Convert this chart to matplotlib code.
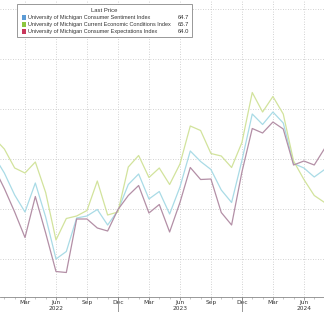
import matplotlib.pyplot as plt
from matplotlib.patches import Rectangle

# monthly data, Dec 2021 .. Sep 2024 (index 0 = Dec 2021)
sentiment = [70.6, 67.2, 62.8, 59.4, 65.2, 58.4, 50.0, 51.5, 58.2, 58.6, 59.9, 56.8,
             59.7, 64.9, 67.0, 62.0, 63.5, 59.0, 64.4, 71.6, 69.5, 67.9, 63.8, 61.3,
             69.7, 79.0, 76.9, 79.4, 77.2, 69.1, 68.2, 66.4, 67.9, 70.1]
current = [74.2, 72.0, 68.2, 67.2, 69.4, 63.3, 53.8, 58.1, 58.6, 59.7, 65.6, 58.8,
           59.4, 68.4, 70.7, 66.3, 68.2, 64.9, 69.0, 76.6, 75.7, 71.1, 70.6, 68.3,
           73.3, 83.3, 79.4, 82.5, 79.0, 69.6, 65.9, 62.7, 61.3, 63.3]
expectations = [68.3, 64.1, 59.4, 54.3, 62.5, 55.2, 47.5, 47.3, 58.0, 58.0, 56.2, 55.6,
                59.9, 62.7, 64.7, 59.2, 60.9, 55.4, 61.3, 68.3, 65.9, 66.0, 59.3, 56.8,
                67.4, 76.1, 75.2, 77.4, 76.0, 68.8, 69.6, 68.8, 72.1, 74.4]

series_names = ["University of Michigan Consumer Sentiment Index",
                "University of Michigan Current Economic Conditions Index",
                "University of Michigan Consumer Expectations Index"]
last_prices = ["64.7", "65.7", "64.0"]

tick_pos = [3, 6, 9, 12, 15, 18, 21, 24, 27, 30]
tick_labels = ["Mar", "Jun", "Sep", "Dec", "Mar", "Jun", "Sep", "Dec", "Mar", "Jun"]
year_pos = [6, 18, 30]
year_labels = ["2022", "2023", "2024"]
year_sep = [12, 24]

line_colors = ['#a9dbe6', '#d2e39c', '#b38fa6']
box_colors = ['#5b9bd5', '#8cc63e', '#c8375b']

W, H = 324, 312
fig = plt.figure(figsize=(W / 100, H / 100), dpi=100)
ax = fig.add_axes([0, 15 / H, 1, 1 - 15 / H])

x = list(range(len(sentiment)))
for vals, c in zip([sentiment, current, expectations], line_colors):
    ax.plot(x, vals, color=c, lw=0.9)

ax.set_yticks([50, 60, 70, 80, 90, 100])
ax.set_xticks(tick_pos)
ax.set_xticklabels(tick_labels)
ax.set_xticks(range(0, 34), minor=True)
# limits after the ticks, set_xticks would widen them
ax.set_xlim(0.58, 0.58 + W / 10.33)
ax.set_ylim(42.4, 101.8)
ax.tick_params(axis='y', left=False, labelleft=False)
ax.tick_params(axis='x', which='major', length=2, width=0.5, color='#777777',
               labelsize=4.2, pad=0.5, labelcolor='#333333')
ax.tick_params(axis='x', which='minor', length=1.5, width=0.4, color='#999999')
ax.grid(True, which='major', color='#c4c4c4', lw=0.6, ls=(0, (1, 2)))

for s in ['top', 'left', 'right']:
    ax.spines[s].set_visible(False)
ax.spines['bottom'].set_color('#888888')
ax.spines['bottom'].set_linewidth(0.6)

# year labels and year separators below the axis
for p, lab in zip(year_pos, year_labels):
    ax.text(p, -11.3 / 297, lab, transform=ax.get_xaxis_transform(), ha='center',
            va='center', fontsize=4.2, color='#333333', clip_on=False)
for p in year_sep:
    ax.plot([p, p], [0, -0.06], transform=ax.get_xaxis_transform(), color='#888888',
            lw=0.6, clip_on=False)


def fx(px):
    return px / W


def fy(py):
    return 1 - py / H


legend_font = ['Liberation Sans', 'DejaVu Sans']
fig.patches.append(Rectangle((fx(17), fy(37)), fx(175), 33 / H, transform=fig.transFigure,
                             facecolor='white', edgecolor='#888888', lw=0.6, zorder=5))
fig.text(fx(104), fy(11), "Last Price", ha='center', va='center', fontsize=4.2,
         family=legend_font, color='#333333', zorder=6)
for i, (name, val, c) in enumerate(zip(series_names, last_prices, box_colors)):
    yy = 17.5 + i * 7
    fig.patches.append(Rectangle((fx(21.5), fy(yy + 2.2)), fx(4.5), 4.5 / H,
                                 transform=fig.transFigure, facecolor=c, edgecolor='none',
                                 zorder=6))
    fig.text(fx(27.5), fy(yy), name, ha='left', va='center', fontsize=3.95,
             family=legend_font, color='#333333', zorder=6)
    fig.text(fx(189.5), fy(yy), val, ha='right', va='center', fontsize=4.2,
             family=legend_font, color='#333333', zorder=6)

fig.savefig('out.png', dpi=100)
